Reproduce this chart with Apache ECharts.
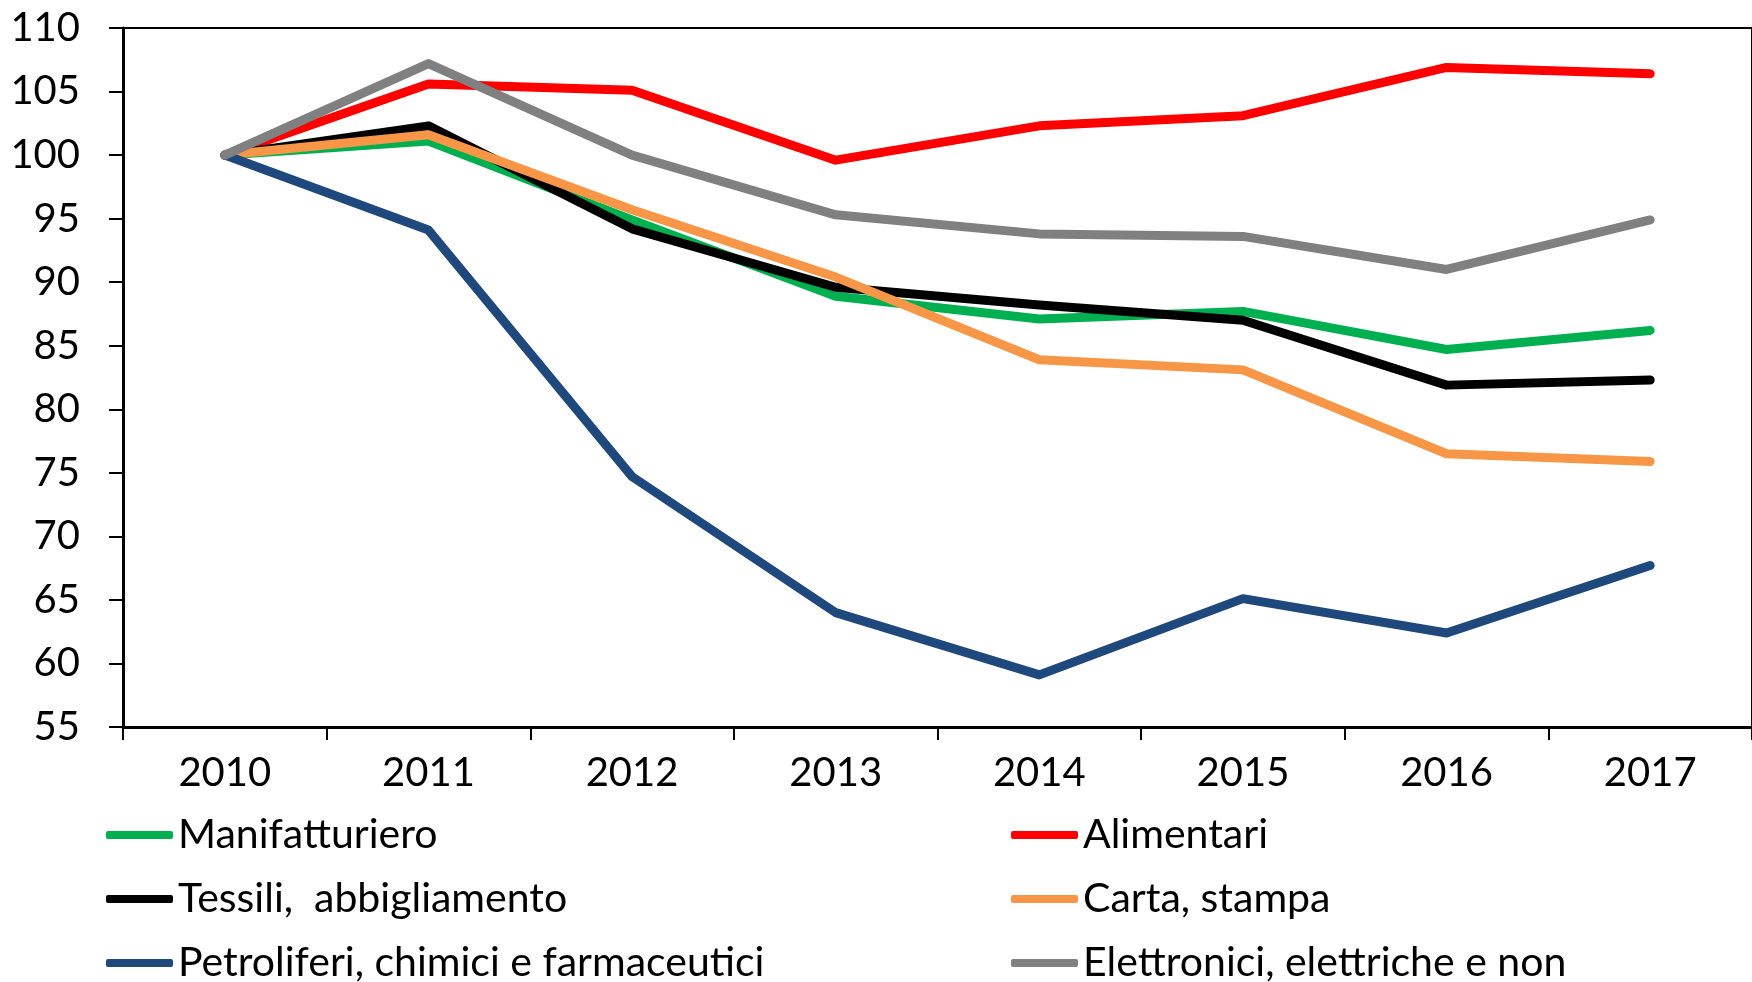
<!DOCTYPE html>
<html>
<head>
<meta charset="utf-8">
<script src="https://cdn.jsdelivr.net/npm/echarts@6/dist/echarts.min.js"></script>
<style>
  html, body { margin: 0; padding: 0; background: #fff; }
  #chart { width: 1752px; height: 982px; }
</style>
</head>
<body>
<div id="chart"></div>
<script>
// anni
const years = ['2010', '2011', '2012', '2013', '2014', '2015', '2016', '2017'];

// indici (2010 = 100)
const manifatturiero = [100, 101.1, 94.9, 88.9, 87.1, 87.7, 84.7, 86.2];
const alimentari = [100, 105.6, 105.1, 99.6, 102.3, 103.1, 106.9, 106.4];
const tessili = [100, 102.3, 94.2, 89.6, 88.2, 87.0, 81.9, 82.3];
const carta = [100, 101.6, 95.7, 90.4, 83.9, 83.1, 76.5, 75.9];
const petroliferi = [100, 94.1, 74.7, 64.0, 59.1, 65.1, 62.4, 67.7];
const elettronici = [100, 107.2, 100.0, 95.3, 93.8, 93.6, 91.0, 94.9];

// legenda: colonna sinistra e colonna destra
const legendLeft = ['Manifatturiero', 'Tessili,  abbigliamento', 'Petroliferi, chimici e farmaceutici'];
const legendRight = ['Alimentari', 'Carta, stampa', 'Elettronici, elettriche e non'];

const yMin = 55;
const yMax = 110;
const yStep = 5;

const font = 'Lato';

function makeLine(name, data, color) {
  return {
    name: name,
    type: 'line',
    data: data,
    symbol: 'none',
    silent: true,
    lineStyle: {
      color: color,
      width: 9,
      cap: 'round',
      join: 'round'
    },
    itemStyle: { color: color }
  };
}

// una legenda per voce, cosi' non va a capo
function makeLegend(name, left, row) {
  return {
    orient: 'horizontal',
    left: left,
    top: 812 + row * 64,
    padding: 0,
    itemWidth: 67,
    itemHeight: 8,
    icon: 'roundRect',
    selectedMode: false,
    data: [name],
    textStyle: {
      fontFamily: font,
      fontSize: 41,
      color: '#000',
      lineHeight: 46
    }
  };
}

const legends = [];
legendLeft.forEach((n, i) => legends.push(makeLegend(n, 106, i)));
legendRight.forEach((n, i) => legends.push(makeLegend(n, 1011, i)));

let option = {
  animation: false,
  backgroundColor: '#fff',
  grid: {
    left: 123,
    top: 28,
    bottom: 255,
    right: -9,
    show: true,
    borderColor: '#000',
    borderWidth: 2,
    backgroundColor: 'transparent'
  },
  legend: legends,
  xAxis: {
    type: 'category',
    data: years,
    boundaryGap: true,
    axisLine: {
      show: true,
      lineStyle: { color: '#000', width: 3 }
    },
    axisTick: {
      show: true,
      length: 13,
      lineStyle: { color: '#000', width: 2 }
    },
    axisLabel: {
      color: '#000',
      fontFamily: font,
      fontSize: 40,
      margin: 26
    },
    splitLine: { show: false }
  },
  yAxis: {
    type: 'value',
    min: yMin,
    max: yMax,
    interval: yStep,
    axisLine: {
      show: true,
      lineStyle: { color: '#000', width: 3 }
    },
    axisTick: {
      show: true,
      length: 14,
      lineStyle: { color: '#000', width: 2 }
    },
    axisLabel: {
      color: '#000',
      fontFamily: font,
      fontSize: 40,
      margin: 43
    },
    splitLine: { show: false }
  },
  series: [
    makeLine('Manifatturiero', manifatturiero, '#00B050'),
    makeLine('Alimentari', alimentari, '#FF0000'),
    makeLine('Tessili,  abbigliamento', tessili, '#000000'),
    makeLine('Carta, stampa', carta, '#F79646'),
    makeLine('Petroliferi, chimici e farmaceutici', petroliferi, '#1F497D'),
    makeLine('Elettronici, elettriche e non', elettronici, '#808080')
  ]
};

const myChart = echarts.init(document.getElementById('chart'), null, { renderer: 'canvas' });
myChart.setOption(option);
window.addEventListener('resize', () => {
  myChart.resize();
});
</script>
</body>
</html>
